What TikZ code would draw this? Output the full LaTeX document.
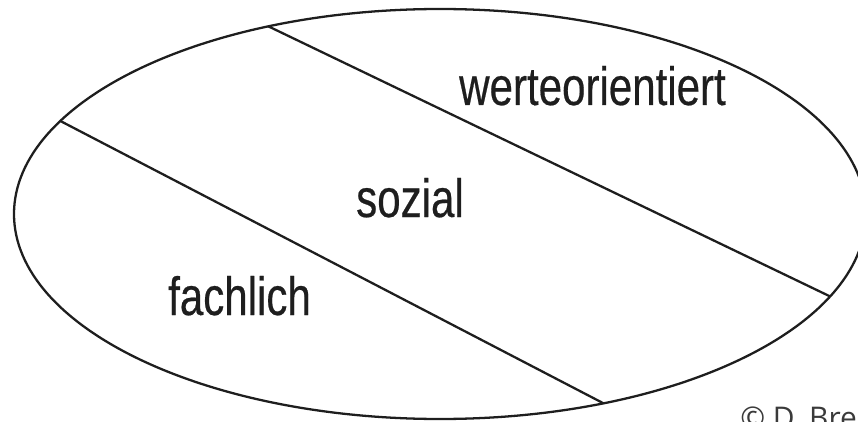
\documentclass[tikz,border=0pt]{standalone}
\usepackage{tikz}
\usepackage{xcolor}
\usepackage{fontspec}
\newfontfamily\areafont{Liberation Sans}[FakeStretch=0.78,FakeBold=0.4]
\newfontfamily\notefont{Open Sans}
\definecolor{notegray}{HTML}{3A3A3A}
\definecolor{inkgray}{HTML}{1E1E1E}
\tikzset{areatext/.style={anchor=base,inner sep=0pt,text=inkgray,font=\areafont\fontsize{30.7}{36}\selectfont}}

\begin{document}
\begin{tikzpicture}
\useasboundingbox (0,0) rectangle (17.16,8.42);
\begin{scope}
\clip (8.80,4.14) ellipse (8.52 and 4.10);
\draw[line width=1.3pt,inkgray](5.00,8.07)--(17.00,2.30);
\draw[line width=1.3pt,inkgray](0.90,6.16)--(12.50,0.13);
\end{scope}
\draw[line width=1.3pt,inkgray](8.80,4.14) ellipse (8.52 and 4.10);
\node[areatext] (wert) at (11.85,6.32){werteorientiert};
\node[areatext] (sozial) at (8.20,4.08){sozial};
\node[areatext] (fach) at (4.79,2.12){fachlich};
\node[anchor=base west,inner sep=0pt,text=notegray,font=\notefont\fontsize{17}{20}\selectfont] (copy) at (14.80,-0.14){© D. Bre};
    \end{tikzpicture}
\end{document}
